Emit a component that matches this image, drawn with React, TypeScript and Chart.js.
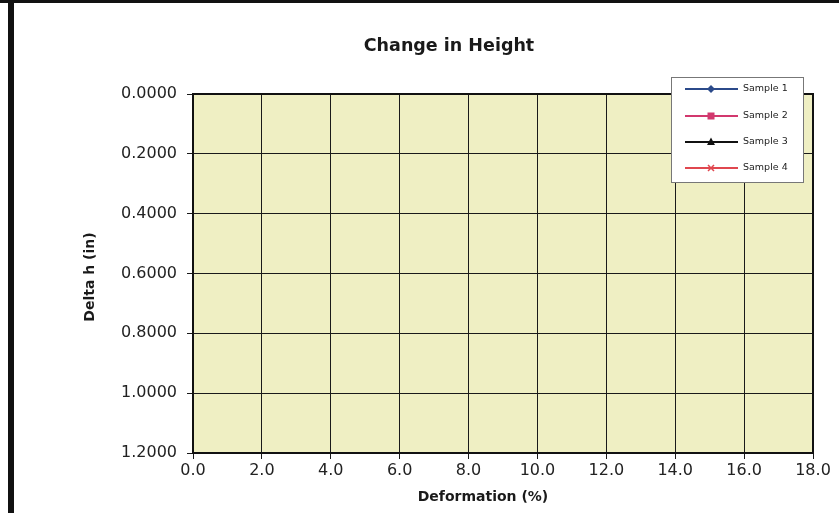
import React, { useEffect, useRef } from "react";
import { Chart, registerables } from "chart.js";

Chart.register(...registerables);

// ---- data ----
const chartTitle = "Change in Height";
const xAxisTitle = "Deformation (%)";
const yAxisTitle = "Delta h (in)";
const xTicks = [0, 2, 4, 6, 8, 10, 12, 14, 16, 18];
const yTicks = [0, 0.2, 0.4, 0.6, 0.8, 1.0, 1.2];
const seriesNames = ["Sample 1", "Sample 2", "Sample 3", "Sample 4"];
const sample1: { x: number; y: number }[] = [];
const sample2: { x: number; y: number }[] = [];
const sample3: { x: number; y: number }[] = [];
const sample4: { x: number; y: number }[] = [];
const seriesData = [sample1, sample2, sample3, sample4];

// ---- styles ----
const seriesColors = ["#2b4a8a", "#d2386e", "#111111", "#e0474f"];
const seriesMarkers = ["rectRot", "rect", "triangle", "crossRot"];
const plotBg = "#efefc3";
const tickFont = "'DejaVu Sans', sans-serif";

const decorPlugin = {
  id: "decor",
  beforeDraw(chart: any) {
    const { ctx, width, height, chartArea } = chart;
    ctx.save();
    ctx.fillStyle = "#ffffff";
    ctx.fillRect(0, 0, width, height);
    // outer frame (top + left)
    ctx.fillStyle = "#111111";
    ctx.fillRect(0, 0, width, 3);
    ctx.fillRect(8, 0, 6, height);
    // plot background
    ctx.fillStyle = plotBg;
    ctx.fillRect(chartArea.left, chartArea.top, chartArea.right - chartArea.left, chartArea.bottom - chartArea.top);
    ctx.restore();
  },
  afterDraw(chart: any) {
    const { ctx, chartArea } = chart;
    ctx.save();
    ctx.fillStyle = "#1a1a1a";
    // title
    ctx.font = "bold 17.5px 'DejaVu Sans', sans-serif";
    ctx.textAlign = "center";
    ctx.textBaseline = "alphabetic";
    ctx.fillText(chartTitle, 449, 51);
    // x axis title
    ctx.font = "bold 14px 'DejaVu Sans', sans-serif";
    ctx.textBaseline = "middle";
    ctx.fillText(xAxisTitle, 483, 497);
    // y axis title
    ctx.save();
    ctx.translate(90, 277);
    ctx.rotate(-Math.PI / 2);
    ctx.fillText(yAxisTitle, 0, 0);
    ctx.restore();

    // plot border
    ctx.strokeStyle = "#111111";
    ctx.lineWidth = 2;
    ctx.strokeRect(chartArea.left, chartArea.top, chartArea.right - chartArea.left, chartArea.bottom - chartArea.top);

    // legend
    const lx = 671, ly = 77, lw = 132, lh = 105;
    ctx.fillStyle = "#ffffff";
    ctx.fillRect(lx, ly, lw, lh);
    ctx.strokeStyle = "#777777";
    ctx.lineWidth = 1;
    ctx.strokeRect(lx + 0.5, ly + 0.5, lw, lh);
    const rows = [89, 116, 142, 168];
    chart.data.datasets.forEach((ds: any, i: number) => {
      const y = rows[i];
      const c = ds.borderColor;
      ctx.strokeStyle = c;
      ctx.lineWidth = 2;
      ctx.beginPath();
      ctx.moveTo(685, y);
      ctx.lineTo(738, y);
      ctx.stroke();
      ctx.fillStyle = c;
      const mx = 711;
      const m = ds.pointStyle;
      ctx.beginPath();
      if (m === "rectRot") {
        ctx.moveTo(mx, y - 4); ctx.lineTo(mx + 4, y); ctx.lineTo(mx, y + 4); ctx.lineTo(mx - 4, y); ctx.closePath(); ctx.fill();
      } else if (m === "rect") {
        ctx.fillRect(mx - 3.5, y - 3.5, 7, 7);
      } else if (m === "triangle") {
        ctx.moveTo(mx, y - 4.5); ctx.lineTo(mx + 4, y + 3); ctx.lineTo(mx - 4, y + 3); ctx.closePath(); ctx.fill();
      } else {
        ctx.lineWidth = 1.5;
        ctx.moveTo(mx - 3, y - 3); ctx.lineTo(mx + 3, y + 3);
        ctx.moveTo(mx + 3, y - 3); ctx.lineTo(mx - 3, y + 3);
        ctx.stroke();
      }
      ctx.fillStyle = "#222222";
      ctx.font = "9.5px 'DejaVu Sans', sans-serif";
      ctx.textAlign = "left";
      ctx.textBaseline = "middle";
      ctx.fillText(ds.label, 743, y);
    });
    ctx.restore();
  },
};

export default function App() {
  const ref = useRef<HTMLCanvasElement | null>(null);
  useEffect(() => {
    document.body.style.margin = "0";
    const canvas = ref.current;
    if (!canvas) return;
    const chart = new Chart(canvas, {
      type: "line",
      data: {
        datasets: seriesNames.map((name, i) => ({
          label: name,
          data: seriesData[i],
          borderColor: seriesColors[i],
          backgroundColor: seriesColors[i],
          pointStyle: seriesMarkers[i] as any,
          borderWidth: 2,
          pointRadius: 4,
        })),
      },
      options: {
        animation: false,
        responsive: false,
        maintainAspectRatio: false,
        layout: { padding: { top: 94, right: 26, left: 0, bottom: 0 } },
        plugins: { legend: { display: false }, title: { display: false }, tooltip: { enabled: false } },
        scales: {
          x: {
            type: "linear",
            min: xTicks[0],
            max: xTicks[xTicks.length - 1],
            afterFit: (s: any) => { s.height = 60; },
            afterBuildTicks: (s: any) => { s.ticks = xTicks.map((v) => ({ value: v })); },
            ticks: {
              color: "#222222",
              font: { family: tickFont, size: 16 },
              padding: 2,
              maxRotation: 0,
              autoSkip: false,
              callback: (v: any) => Number(v).toFixed(1),
            },
            grid: { color: "#1a1a1a", lineWidth: 1, tickLength: 6, drawTicks: true },
            border: { display: false },
          },
          y: {
            type: "linear",
            reverse: true,
            min: yTicks[0],
            max: yTicks[yTicks.length - 1],
            afterFit: (s: any) => { s.width = 193; },
            afterBuildTicks: (s: any) => { s.ticks = yTicks.map((v) => ({ value: v })); },
            ticks: {
              color: "#222222",
              font: { family: tickFont, size: 16 },
              padding: 10,
              autoSkip: false,
              callback: (v: any) => Number(v).toFixed(4),
            },
            grid: { color: "#1a1a1a", lineWidth: 1, tickLength: 6, drawTicks: true },
            border: { display: false },
          },
        },
      },
      plugins: [decorPlugin],
    });
    return () => chart.destroy();
  }, []);
  return (
    <div style={{ width: 839, height: 513 }}>
      <canvas ref={ref} width={839} height={513} style={{ display: "block", width: 839, height: 513 }} />
    </div>
  );
}
